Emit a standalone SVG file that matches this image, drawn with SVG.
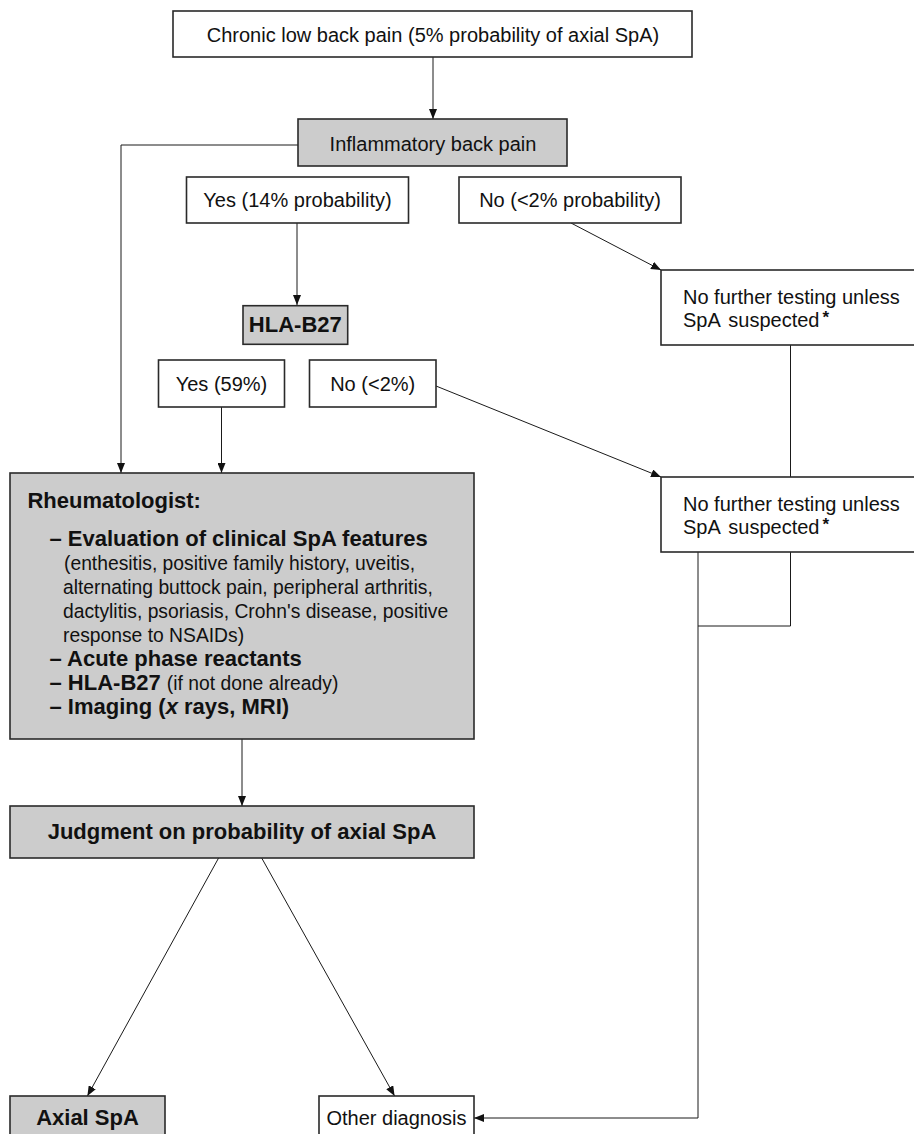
<svg xmlns="http://www.w3.org/2000/svg" width="914" height="1134" viewBox="0 0 914 1134">
<style>
.box{fill:#ffffff;stroke:#2a2a2a;stroke-width:1.6}
.gray{fill:#cccccc;stroke:#2a2a2a;stroke-width:1.6}
.t{font-family:"Liberation Sans",Arial,sans-serif;font-size:20px;fill:#111}
.b{font-family:"Liberation Sans",Arial,sans-serif;font-size:22px;font-weight:bold;fill:#111}
.r{font-family:"Liberation Sans",Arial,sans-serif;font-size:19.3px;fill:#111}
.mid{text-anchor:middle}
.star{font-size:17px;font-weight:bold}
.c{fill:none;stroke:#1a1a1a;stroke-width:1}
</style>
<defs>
<marker id="ah" viewBox="0 0 10 8" refX="10" refY="4" markerWidth="10" markerHeight="8" markerUnits="userSpaceOnUse" orient="auto">
<path d="M0,0 L10,4 L0,8 Z" fill="#111"/>
</marker>
</defs>
<rect width="914" height="1134" fill="#ffffff"/>
<g id="connectors">
<path class="c" d="M433,57 V119" marker-end="url(#ah)"/>
<path class="c" d="M298,145 H121 V473" marker-end="url(#ah)"/>
<path class="c" d="M297,223 V305" marker-end="url(#ah)"/>
<path class="c" d="M571,223 L661,270" marker-end="url(#ah)"/>
<path class="c" d="M790.5,345 V477"/>
<path class="c" d="M221.5,407 V473" marker-end="url(#ah)"/>
<path class="c" d="M436,386 L661,477" marker-end="url(#ah)"/>
<path class="c" d="M698,552 V1118 H474" marker-end="url(#ah)"/>
<path class="c" d="M790.5,552 V626 H698"/>
<path class="c" d="M242,739 V806" marker-end="url(#ah)"/>
<path class="c" d="M218.6,858 L87.4,1096" marker-end="url(#ah)"/>
<path class="c" d="M261.7,858 L394.6,1096" marker-end="url(#ah)"/>
</g>
<g id="n-chronic">
<rect class="box" x="173" y="11" width="519" height="46"/>
<text class="t mid" x="433" y="42">Chronic low back pain (5% probability of axial SpA)</text>
</g>
<g id="n-ibp">
<rect class="gray" x="298" y="119" width="269" height="47"/>
<text class="t mid" x="433" y="151">Inflammatory back pain</text>
</g>
<g id="n-yes14">
<rect class="box" x="186.5" y="177" width="222" height="46"/>
<text class="t mid" x="297.5" y="207">Yes (14% probability)</text>
</g>
<g id="n-no2">
<rect class="box" x="459" y="177" width="222" height="46"/>
<text class="t mid" x="570" y="207">No (&lt;2% probability)</text>
</g>
<g id="n-nft1">
<rect class="box" x="661" y="270" width="270" height="75"/>
<text class="t" x="683" y="304">No further testing unless</text>
<text class="t" x="683" y="327">SpA <tspan dx="3">suspected</tspan><tspan class="star" dx="3" dy="-4">*</tspan></text>
</g>
<g id="n-hla">
<rect class="gray" x="243" y="305.7" width="104.7" height="38.6"/>
<text class="b mid" x="295.3" y="331.5">HLA-B27</text>
</g>
<g id="n-yes59">
<rect class="box" x="158.5" y="360" width="126" height="47"/>
<text class="t mid" x="221.5" y="391">Yes (59%)</text>
</g>
<g id="n-no2b">
<rect class="box" x="309.5" y="360" width="126.5" height="47"/>
<text class="t mid" x="372.7" y="391">No (&lt;2%)</text>
</g>
<g id="n-nft2">
<rect class="box" x="661" y="477" width="270" height="75"/>
<text class="t" x="683" y="511">No further testing unless</text>
<text class="t" x="683" y="534">SpA <tspan dx="3">suspected</tspan><tspan class="star" dx="3" dy="-4">*</tspan></text>
</g>
<g id="n-rheum">
<rect class="gray" x="10" y="473" width="464" height="266"/>
<text class="b" x="27.4" y="508">Rheumatologist:</text>
<text class="b" x="49.5" y="546">– Evaluation of clinical SpA features</text>
<text class="r" x="64" y="570">(enthesitis, positive family history, uveitis,</text>
<text class="r" x="63" y="594">alternating buttock pain, peripheral arthritis,</text>
<text class="r" x="63" y="618">dactylitis, psoriasis, Crohn's disease, positive</text>
<text class="r" x="63" y="642">response to NSAIDs)</text>
<text class="b" x="49.5" y="666">– Acute phase reactants</text>
<text class="b" x="49.5" y="690">– HLA-B27 <tspan class="r" font-weight="normal">(if not done already)</tspan></text>
<text class="b" x="49.5" y="714">– Imaging (<tspan font-style="italic">x</tspan> rays, MRI)</text>
</g>
<g id="n-judgment">
<rect class="gray" x="10" y="806" width="464" height="52"/>
<text class="b mid" x="242" y="839">Judgment on probability of axial SpA</text>
</g>
<g id="n-axial">
<rect class="gray" x="10" y="1096" width="155" height="60"/>
<text class="b mid" x="87.5" y="1125">Axial SpA</text>
</g>
<g id="n-other">
<rect class="box" x="319" y="1096" width="155" height="60"/>
<text class="t mid" x="396.5" y="1125">Other diagnosis</text>
</g>
</svg>
